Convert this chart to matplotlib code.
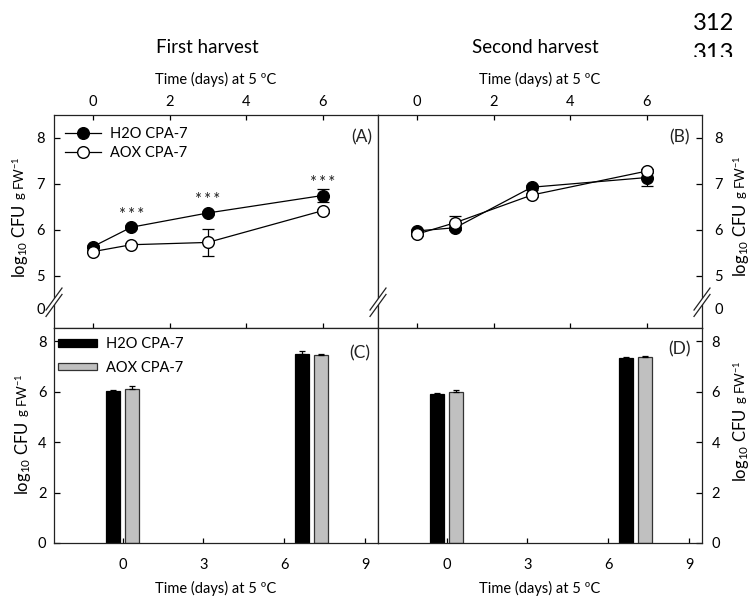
import matplotlib
matplotlib.use("Agg")
import matplotlib.pyplot as plt
from matplotlib.lines import Line2D
from matplotlib.patches import Polygon, Rectangle
from matplotlib.transforms import IdentityTransform

plt.rcParams['font.family'] = ['Lato', 'DejaVu Sans']
plt.rcParams['mathtext.fontset'] = 'custom'
plt.rcParams['mathtext.rm'] = 'Lato'
plt.rcParams['mathtext.it'] = 'Lato:italic'
plt.rcParams['mathtext.bf'] = 'Lato:bold'

# ---------------- data ----------------
line_days = [0, 1, 3, 6]
A_h2o = [5.63, 6.05, 6.36, 6.74]
A_h2o_err = [0.04, 0.04, 0.04, 0.15]
A_aox = [5.52, 5.67, 5.72, 6.41]
A_aox_err = [0.03, 0.03, 0.30, 0.04]
A_sig_days = [1, 3, 6]
A_sig_vals = [6.05, 6.36, 6.74]
A_sig_text = ["*\u2009*\u2009*", "*\u2009*\u2009*", "*\u2009*\u2009*"]

B_h2o = [5.97, 6.04, 6.92, 7.13]
B_h2o_err = [0.05, 0.05, 0.05, 0.18]
B_aox = [5.90, 6.15, 6.75, 7.27]
B_aox_err = [0.04, 0.15, 0.04, 0.04]

bar_days = [0, 7]
C_h2o = [6.04, 7.50]
C_h2o_err = [0.03, 0.10]
C_aox = [6.11, 7.44]
C_aox_err = [0.10, 0.07]
D_h2o = [5.92, 7.33]
D_h2o_err = [0.03, 0.03]
D_aox = [5.98, 7.37]
D_aox_err = [0.09, 0.03]

series_names = ["H2O CPA-7", "AOX CPA-7"]
top_xticks = [0, 2, 4, 6]
bot_xticks = [0, 3, 6, 9]
top_yticks = [5, 6, 7, 8]
bot_yticks = [0, 2, 4, 6, 8]
top_break_label = "0"
xlabel_txt = "Time (days) at 5 ºC"
titles = ["First harvest", "Second harvest"]
panel_tags = ["(A)", "(B)", "(C)", "(D)"]
page_numbers = ["312", "313"]

# ---------------- layout ----------------
W, H = 752, 599
fig = plt.figure(figsize=(W / 100, H / 100), dpi=100)

def px_axes(x0, y0, x1, y1):
    return fig.add_axes([x0 / W, 1 - y1 / H, (x1 - x0) / W, (y1 - y0) / H])

axA = px_axes(54, 115, 378, 328)
axB = px_axes(378, 115, 702, 328)
axC = px_axes(54, 328, 378, 543)
axD = px_axes(378, 328, 702, 543)

TOP_YLIM = (3.86, 8.49)
ZERO_POS = 4.29      # where the broken-axis "0" sits
BREAK_POS = 4.42
TOP_XLIM = (-1.02, 7.45)
BOT_XLIM = (-2.55, 9.48)
BOT_YLIM = (0, 8.53)

fs_tick = 10.5
fs_lab = 10.5
lw = 0.9

for ax in (axA, axB, axC, axD):
    for s in ax.spines.values():
        s.set_linewidth(lw)
        s.set_color('#222222')

# ---------- top panels ----------
def top_panel(ax, h2o, h2o_err, aox, aox_err, side):
    ax.errorbar(line_days, h2o, yerr=h2o_err, fmt='none', ecolor='black',
                elinewidth=lw, capsize=4.3, capthick=lw, zorder=2)
    ax.errorbar(line_days, aox, yerr=aox_err, fmt='none', ecolor='black',
                elinewidth=lw, capsize=4.3, capthick=lw, zorder=2)
    ax.plot(line_days, h2o, '-o', color='black', lw=lw, ms=8.4,
            mfc='black', mec='black', mew=1.0, zorder=3, label=series_names[0])
    ax.plot(line_days, aox, '-o', color='black', lw=lw, ms=8.4,
            mfc='white', mec='black', mew=1.0, zorder=4, label=series_names[1])
    ax.set_xlim(*TOP_XLIM)
    ax.set_ylim(*TOP_YLIM)
    ax.set_xticks(top_xticks)
    ax.set_yticks([ZERO_POS] + top_yticks)
    ax.set_yticklabels([top_break_label] + [str(v) for v in top_yticks])
    ax.tick_params(axis='x', direction='in', top=True, bottom=True,
                   labeltop=True, labelbottom=False, length=3.6, width=lw,
                   labelsize=fs_tick, pad=4.3)
    ax.xaxis.set_label_position('top')
    ax.set_xlabel(xlabel_txt, fontsize=fs_lab, labelpad=8)
    if side == 'left':
        ax.tick_params(axis='y', direction='in', left=True, right=False,
                       labelleft=True, labelright=False, length=4, width=lw,
                       labelsize=fs_tick, pad=6.5)
    else:
        ax.tick_params(axis='y', direction='in', left=False, right=True,
                       labelleft=False, labelright=True, length=4, width=lw,
                       labelsize=fs_tick, pad=9)
    # the zero tick line itself is hidden by the break
    ax.yaxis.get_major_ticks()[0].tick1line.set_visible(False)
    ax.yaxis.get_major_ticks()[0].tick2line.set_visible(False)

top_panel(axA, A_h2o, A_h2o_err, A_aox, A_aox_err, 'left')
top_panel(axB, B_h2o, B_h2o_err, B_aox, B_aox_err, 'right')

for d, v, t in zip(A_sig_days, A_sig_vals, A_sig_text):
    axA.annotate(t, xy=(d, v), xytext=(0, 5.5), textcoords='offset points',
                 ha='center', va='baseline', fontsize=12, color='#222222')

axA.legend(loc='upper left', bbox_to_anchor=(0.034, 0.942), frameon=False,
           fontsize=10.5, handlelength=2.5, handletextpad=0.6,
           labelspacing=0.35, borderpad=0, borderaxespad=0)

# ---------- bottom panels ----------
def bottom_panel(ax, h2o, h2o_err, aox, aox_err, side, legend=False):
    width = 0.52
    off = 0.355
    xs1 = [d - off for d in bar_days]
    xs2 = [d + off for d in bar_days]
    ax.bar(xs1, h2o, width=width, color='black', edgecolor='black',
           linewidth=lw, label=series_names[0], zorder=2)
    ax.bar(xs2, aox, width=width, color='#c0c0c0', edgecolor='#333333',
           linewidth=lw, label=series_names[1], zorder=2)
    ax.errorbar(xs1, h2o, yerr=[[0] * len(h2o), h2o_err], fmt='none',
                ecolor='black', elinewidth=lw, capsize=2.5, capthick=lw, zorder=3)
    ax.errorbar(xs2, aox, yerr=[[0] * len(aox), aox_err], fmt='none',
                ecolor='black', elinewidth=lw, capsize=2.5, capthick=lw, zorder=3)
    ax.set_xlim(*BOT_XLIM)
    ax.set_ylim(*BOT_YLIM)
    ax.set_xticks(bot_xticks)
    ax.set_yticks(bot_yticks)
    ax.tick_params(axis='x', direction='in', top=False, bottom=True,
                   length=3.6, width=lw, labelsize=fs_tick, pad=11)
    ax.set_xlabel(xlabel_txt, fontsize=fs_lab, labelpad=6)
    if side == 'left':
        ax.tick_params(axis='y', direction='in', left=True, right=False,
                       labelleft=True, labelright=False, length=4, width=lw,
                       labelsize=fs_tick, pad=5.5)
    else:
        ax.tick_params(axis='y', direction='in', left=False, right=True,
                       labelleft=False, labelright=True, length=4, width=lw,
                       labelsize=fs_tick, pad=7)
    if legend:
        ax.legend(loc='upper left', bbox_to_anchor=(0.011, 0.957), frameon=False,
                  fontsize=10.5, handlelength=2.7, handleheight=0.45,
                  handletextpad=0.65, labelspacing=0.65, borderpad=0,
                  borderaxespad=0)

bottom_panel(axC, C_h2o, C_h2o_err, C_aox, C_aox_err, 'left', legend=True)
bottom_panel(axD, D_h2o, D_h2o_err, D_aox, D_aox_err, 'right')

# ---------- panel tags ----------
tag_pos = [(axA, 0.951, 0.897), (axB, 0.932, 0.897),
           (axC, 0.944, 0.884), (axD, 0.932, 0.902)]
for (ax, x, y), t in zip(tag_pos, panel_tags):
    ax.text(x, y, t, transform=ax.transAxes, ha='center', va='center',
            fontsize=12.5, color='#222222')

# ---------- titles ----------
axA.text(0.472, 1.316, titles[0], transform=axA.transAxes, ha='center',
         va='center', fontsize=13.5)
axB.text(0.485, 1.316, titles[1], transform=axB.transAxes, ha='center',
         va='center', fontsize=13.5)

# ---------- axis breaks ----------
def axis_break(ax, xfrac, yval):
    xd = ax.transAxes.transform((xfrac, 0))[0]
    yd = ax.transData.transform((0, yval))[1]
    dx, dy, g = 8, 11, 3.2
    poly = Polygon([(xd - dx, yd - dy - g), (xd + dx, yd + dy - g),
                    (xd + dx, yd + dy + g), (xd - dx, yd - dy + g)],
                   closed=True, facecolor='white', edgecolor='none',
                   transform=IdentityTransform(), zorder=10)
    fig.add_artist(poly)
    for s in (-g, g):
        fig.add_artist(Line2D([xd - dx, xd + dx], [yd - dy + s, yd + dy + s],
                              color='#222222', lw=lw,
                              transform=IdentityTransform(), zorder=11))

axis_break(axA, 0, BREAK_POS)
axis_break(axA, 1, BREAK_POS)
axis_break(axB, 1, BREAK_POS)

# ---------- y labels (two sizes) ----------
renderer = fig.canvas.get_renderer()

def ylabel2(x_base, y_start, gap=4):
    t1 = fig.text(x_base / W, 1 - y_start / H, r"log$\mathregular{_{10}}$ CFU",
                  rotation=90, rotation_mode='anchor', ha='left',
                  va='baseline', fontsize=12)
    bb = t1.get_window_extent(renderer)
    fig.text(x_base / W, (bb.y1 + gap) / H, r"g FW$\mathregular{^{-1}}$",
             rotation=90, rotation_mode='anchor', ha='left',
             va='baseline', fontsize=9.5)

ylabel2(25, 278)
ylabel2(28, 495)
ylabel2(746, 277)
ylabel2(746, 482)

# ---------- page line numbers ----------
fig.text(693 / W, 1 - 30 / H, page_numbers[0], ha='left', va='baseline',
         fontsize=17)
fig.text(693 / W, 1 - 60 / H, page_numbers[1], ha='left', va='baseline',
         fontsize=17)
fig.add_artist(Rectangle((688 / W, 1 - 75 / H), 62 / W, 18 / H,
                         transform=fig.transFigure, facecolor='white',
                         edgecolor='none', zorder=20))

fig.savefig("out.png", dpi=100)
